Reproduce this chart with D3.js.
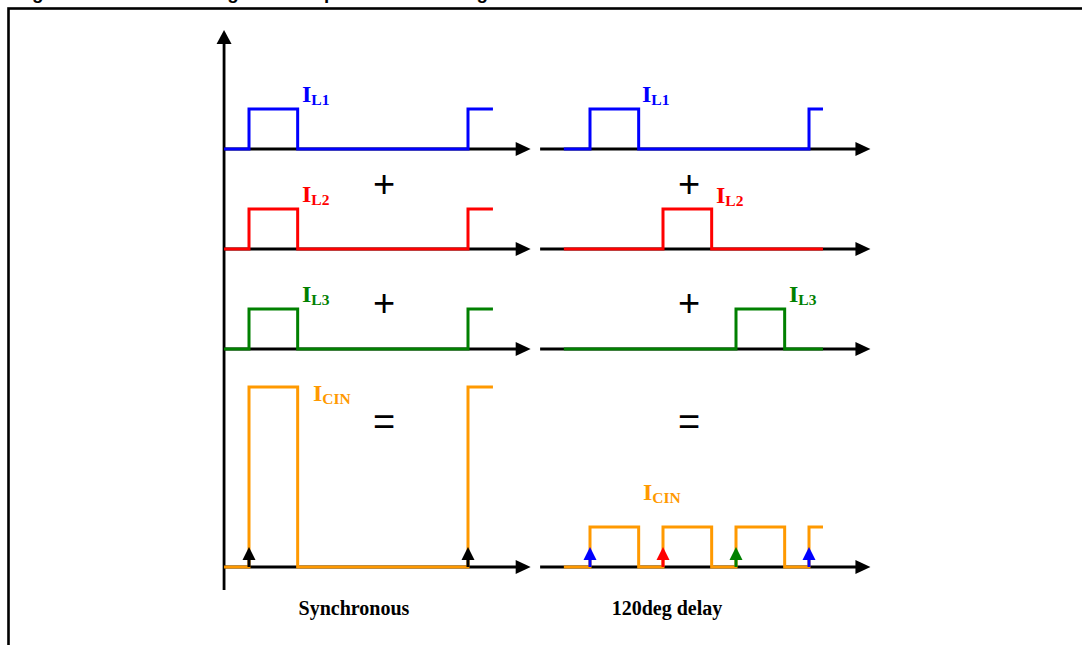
<!DOCTYPE html>
<html>
<head>
<meta charset="utf-8">
<script src="https://cdn.jsdelivr.net/npm/d3@7"></script>
<style>
  html, body { margin: 0; padding: 0; background: #fff; }
  svg { display: block; }
</style>
</head>
<body>
<div id="chart"></div>
<script>
// ---------------- DATA (time in electrical degrees, level in pulse units) ----------------
const rows = ["IL1", "IL2", "IL3", "ICIN"];
const rowSubscripts = ["L1", "L2", "L3", "CIN"];
const panels = ["Synchronous", "120deg delay"];
const titleText = "Figure 4. Current sharing between phases and timing";
const operators = ["+", "+", "="];

// Synchronous panel: all three phases switch together
const syncIL1  = [[-41, 0], [0, 1], [80, 0], [360, 1], [401, 1]];
const syncIL2  = [[-41, 0], [0, 1], [80, 0], [360, 1], [401, 1]];
const syncIL3  = [[-41, 0], [0, 1], [80, 0], [360, 1], [401, 1]];
const syncICIN = [[-41, 0], [0, 4.5], [80, 0], [360, 4.5], [401, 4.5]];

// 120 degree interleaved panel
const delayIL1  = [[-43, 0], [0, 1], [80, 0], [360, 1], [383, 1]];
const delayIL2  = [[-43, 0], [120, 1], [200, 0], [383, 0]];
const delayIL3  = [[-43, 0], [240, 1], [320, 0], [383, 0]];
const delayICIN = [[-43, 0], [0, 1], [80, 0], [120, 1], [200, 0], [240, 1], [320, 0], [360, 1], [383, 1]];

// switching-instant markers on the input-capacitor row
const syncMarkers  = [0, 360];
const syncMarkerPhase = ["sync", "sync"];
const delayMarkers = [0, 120, 240, 360];
const delayMarkerPhase = ["IL1", "IL2", "IL3", "IL1"];

// axis extents (degrees)
const syncAxis  = [-41, 463];
const delayAxis = [-82, 461];

// ---------------- STYLE / LAYOUT ----------------
const W = 1082, H = 645;
const colors = { IL1: "#0000FF", IL2: "#FF0000", IL3: "#008000", ICIN: "#FF9900", sync: "#000000" };
const rowBase = { IL1: 149, IL2: 249, IL3: 349, ICIN: 567 };
const pulsePx = 40;

const svg = d3.select("#chart").append("svg")
  .attr("width", W).attr("height", H)
  .style("background", "#fff");

// clipped caption and frame
svg.append("text")
  .attr("x", 15.5).attr("y", -1.5)
  .attr("font-family", "Liberation Sans, Arial, sans-serif")
  .attr("font-weight", "bold")
  .attr("font-size", 18.7)
  .attr("fill", "#000")
  .text(titleText);
svg.append("rect")
  .attr("x", 8.5).attr("y", 8.5).attr("width", W + 20).attr("height", H + 20)
  .attr("fill", "none").attr("stroke", "#000").attr("stroke-width", 2.6);

const xSync  = d3.scaleLinear().domain([0, 360]).range([249, 468]);
const xDelay = d3.scaleLinear().domain([0, 360]).range([590, 809]);

function yScale(row) {
  return d3.scaleLinear().domain([0, 1]).range([rowBase[row], rowBase[row] - pulsePx]);
}

const axisG = svg.append("g");
function hAxis(x, ext, y) {
  const x0 = x(ext[0]), x1 = x(ext[1]);
  axisG.append("line").attr("x1", x0).attr("x2", x1 - 13).attr("y1", y).attr("y2", y)
    .attr("stroke", "#000").attr("stroke-width", 3);
  axisG.append("path")
    .attr("d", `M${x1},${y} L${x1 - 15},${y - 7} L${x1 - 15},${y + 7} Z`)
    .attr("fill", "#000");
}

// vertical axis (left panel only)
const vx = xSync(syncAxis[0]);
axisG.append("line").attr("x1", vx).attr("x2", vx).attr("y1", 590).attr("y2", 40)
  .attr("stroke", "#000").attr("stroke-width", 2.8);
axisG.append("path").attr("d", `M${vx},30 L${vx - 7.5},44 L${vx + 7.5},44 Z`).attr("fill", "#000");

rows.forEach(r => {
  hAxis(xSync, syncAxis, rowBase[r]);
  hAxis(xDelay, delayAxis, rowBase[r]);
});

// waveforms
const syncSeries  = { IL1: syncIL1, IL2: syncIL2, IL3: syncIL3, ICIN: syncICIN };
const delaySeries = { IL1: delayIL1, IL2: delayIL2, IL3: delayIL3, ICIN: delayICIN };

const waveG = svg.append("g");
function drawWave(x, row, data) {
  const y = yScale(row);
  const line = d3.line().x(d => x(d[0])).y(d => y(d[1])).curve(d3.curveStepAfter);
  waveG.append("path").datum(data)
    .attr("d", line)
    .attr("fill", "none")
    .attr("stroke", colors[row])
    .attr("stroke-width", 3)
    .attr("stroke-linejoin", "miter");
}
rows.forEach(r => {
  drawWave(xSync, r, syncSeries[r]);
  drawWave(xDelay, r, delaySeries[r]);
});

// switching markers (small up arrows)
function drawMarkers(x, times, phases) {
  const base = rowBase.ICIN;
  times.forEach((t, i) => {
    const cx = x(t);
    const c = colors[phases[i]];
    waveG.append("line").attr("x1", cx).attr("x2", cx).attr("y1", base).attr("y2", base - 10)
      .attr("stroke", c).attr("stroke-width", 3);
    waveG.append("path")
      .attr("d", `M${cx},${base - 20} L${cx - 6.5},${base - 7} L${cx + 6.5},${base - 7} Z`)
      .attr("fill", c);
  });
}
drawMarkers(xSync, syncMarkers, syncMarkerPhase);
drawMarkers(xDelay, delayMarkers, delayMarkerPhase);

// labels
const labelPos = {
  sync:  { IL1: [302, 102], IL2: [302, 202], IL3: [302, 302], ICIN: [313, 401] },
  delay: { IL1: [642, 102], IL2: [716, 203], IL3: [789, 302], ICIN: [643, 500] }
};
const labG = svg.append("g")
  .attr("font-family", "Liberation Serif, 'Times New Roman', serif")
  .attr("font-weight", "bold");
["sync", "delay"].forEach(p => {
  rows.forEach((r, i) => {
    const [lx, ly] = labelPos[p][r];
    const t = labG.append("text").attr("x", lx).attr("y", ly).attr("fill", colors[r]).attr("font-size", 24);
    t.append("tspan").text("I");
    t.append("tspan").attr("font-size", 15.5).attr("dy", 3).text(rowSubscripts[i]);
  });
});

// operators
const opY = [197, 316, 435];
const opG = svg.append("g")
  .attr("font-family", "Liberation Sans, Arial, sans-serif")
  .attr("font-size", 38)
  .attr("text-anchor", "middle")
  .attr("fill", "#000");
operators.forEach((o, i) => {
  opG.append("text").attr("x", 384).attr("y", opY[i]).text(o);
  opG.append("text").attr("x", 689).attr("y", opY[i]).text(o);
});

// panel captions
svg.append("g")
  .attr("font-family", "Liberation Serif, 'Times New Roman', serif")
  .attr("font-weight", "bold").attr("font-size", 20)
  .attr("text-anchor", "middle")
  .selectAll("text").data(panels).join("text")
  .attr("x", (d, i) => i === 0 ? 354 : 667)
  .attr("y", 615)
  .text(d => d);
</script>
</body>
</html>
